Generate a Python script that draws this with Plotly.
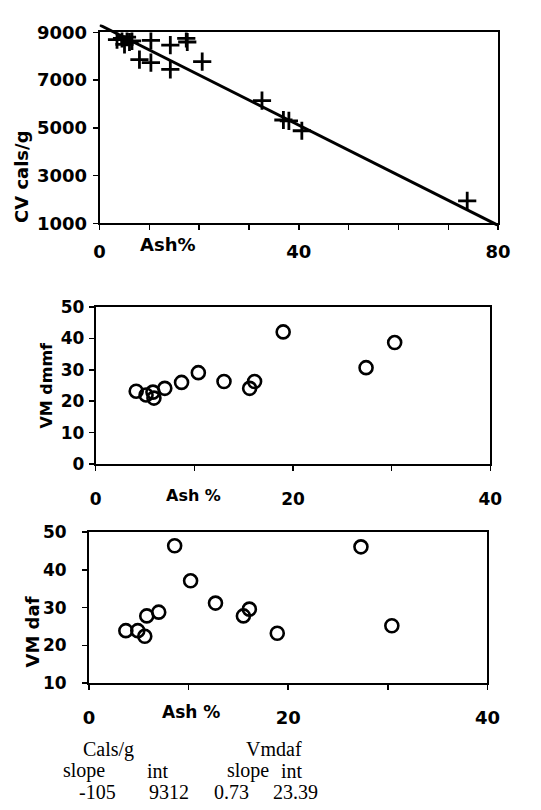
import plotly.graph_objects as go

W, H = 541, 810

# ---------------- data ----------------
# Chart 1: CV cals/g vs Ash%
cv_ash = [3.5, 4.5, 5.5, 6.0, 5.0, 6.5, 10.3, 14.2, 17.4, 17.6, 8.0, 10.3, 14.2, 20.6,
          32.6, 36.9, 38.0, 40.6, 73.8]
cv_val = [8700, 8750, 8800, 8600, 8500, 8650, 8670, 8470, 8750, 8600, 7860, 7735, 7450, 7780,
          6140, 5330, 5290, 4880, 1940]
cv_slope = [-105]
cv_int = [9312]

# Chart 2: VM dmmf vs Ash %
dmmf_ash = [4.1, 5.1, 5.8, 5.9, 7.0, 8.7, 10.4, 13.0, 15.6, 16.1, 19.0, 27.4, 30.3]
dmmf_vm = [23.2, 22.0, 22.9, 21.0, 24.1, 26.0, 29.1, 26.3, 24.1, 26.3, 42.1, 30.7, 38.7]

# Chart 3: VM daf vs Ash %
daf_ash = [3.7, 4.9, 5.6, 5.8, 7.0, 8.6, 10.2, 12.7, 15.5, 16.1, 18.9, 27.3, 30.4]
daf_vm = [23.9, 23.9, 22.4, 27.8, 28.8, 46.4, 37.1, 31.2, 27.8, 29.6, 23.2, 46.1, 25.2]

# summary table
vmdaf_slope = [0.73]
vmdaf_int = [23.39]

x1_ticks = [0, 10, 20, 30, 40, 50, 60, 70, 80]
x1_labels = ["0", "", "", "", "40", "", "", "", "80"]
y1_ticks = [1000, 3000, 5000, 7000, 9000]
x23_ticks = [0, 10, 20, 30, 40]
x23_labels = ["0", "", "20", "", "40"]

# ---------------- helpers ----------------
def xd(a, b):
    return [a / W, b / W]

def yd(top, bottom):
    return [1 - bottom / H, 1 - top / H]

SANS = "DejaVu Sans"
fig = go.Figure()

# chart 1 crosses
fig.add_trace(go.Scatter(
    x=cv_ash, y=cv_val, mode="markers", xaxis="x", yaxis="y",
    marker=dict(symbol="cross-thin", size=13, line=dict(width=2.8, color="black"), color="black"),
    showlegend=False, hoverinfo="skip"))

# trend line on overlay axes (so it can rise above the frame like the original)
tx = [0, 80]
ty = [cv_int[0] + cv_slope[0] * v for v in tx]
fig.add_trace(go.Scatter(
    x=tx, y=ty, mode="lines", xaxis="x4", yaxis="y4",
    line=dict(color="black", width=3), showlegend=False, hoverinfo="skip"))

# chart 2
fig.add_trace(go.Scatter(
    x=dmmf_ash, y=dmmf_vm, mode="markers", xaxis="x2", yaxis="y2",
    marker=dict(symbol="circle-open", size=13, line=dict(width=2.6, color="black"), color="black"),
    showlegend=False, hoverinfo="skip"))

# chart 3
fig.add_trace(go.Scatter(
    x=daf_ash, y=daf_vm, mode="markers", xaxis="x3", yaxis="y3",
    marker=dict(symbol="circle-open", size=13, line=dict(width=2.6, color="black"), color="black"),
    showlegend=False, hoverinfo="skip"))

axis_common = dict(showline=True, mirror=True, linecolor="black", linewidth=2,
                   showgrid=False, zeroline=False, ticks="outside", ticklen=5,
                   tickwidth=1.5, tickcolor="black", fixedrange=True)

# chart 1 geometry
c1_top, c1_bot = 22, 218
pxu = (c1_bot - c1_top) / (9000 - 1000)
y4_lo, y4_hi = 880, 9330
y4_bot = c1_bot + (1000 - y4_lo) * pxu
y4_top = c1_top - (y4_hi - 9000) * pxu

fig.update_layout(
    width=W, height=H, autosize=False,
    margin=dict(l=0, r=0, t=0, b=0),
    paper_bgcolor="white", plot_bgcolor="rgba(0,0,0,0)",
    xaxis=dict(domain=xd(97, 510), range=[0, 80], anchor="y",
               tickvals=x1_ticks, ticktext=x1_labels, ticklabelstandoff=6,
               tickfont=dict(family=SANS, size=18, color="black", weight="bold"), **axis_common),
    yaxis=dict(domain=yd(c1_top, c1_bot), range=[1000, 9000], anchor="x",
               tickvals=y1_ticks, ticklabelstandoff=2,
               tickfont=dict(family=SANS, size=18, color="black", weight="bold"), **axis_common),
    xaxis4=dict(domain=xd(97, 510), range=[0, 80], anchor="y4", visible=False, fixedrange=True),
    yaxis4=dict(domain=yd(y4_top, y4_bot), range=[y4_lo, y4_hi], anchor="x4", visible=False,
                fixedrange=True),
    xaxis2=dict(domain=xd(93, 502), range=[0, 40], anchor="y2",
                tickvals=x23_ticks, ticktext=x23_labels, ticklabelstandoff=14,
                tickfont=dict(family=SANS, size=17, color="black", weight="bold"), **axis_common),
    yaxis2=dict(domain=yd(304, 465), range=[0, 50], anchor="x2", dtick=10, ticklabelstandoff=1,
                tickfont=dict(family=SANS, size=17, color="black", weight="bold"), **axis_common),
    xaxis3=dict(domain=xd(86, 499), range=[0, 40], anchor="y3",
                tickvals=x23_ticks, ticktext=x23_labels, ticklabelstandoff=12,
                tickfont=dict(family=SANS, size=18, color="black", weight="bold"), **axis_common),
    yaxis3=dict(domain=yd(535, 690), range=[10, 50], anchor="x3", dtick=10, ticklabelstandoff=12,
                tickfont=dict(family=SANS, size=17, color="black", weight="bold"), **axis_common),
)

def ann(text, x, y, size, angle=0, family=SANS, bold=True):
    fig.add_annotation(text=text, x=x / W, y=1 - y / H, xref="paper", yref="paper",
                       showarrow=False, textangle=angle, xanchor="center", yanchor="middle",
                       font=dict(family=family, size=size, color="black",
                                 weight="bold" if bold else "normal"))

# axis titles
ann("CV cals/g", 16, 170, 18, -90)
ann("Ash%", 168, 240, 18)
ann("VM dmmf", 42, 384, 16, -90)
ann("Ash %", 194, 497, 16)
ann("VM daf", 27, 638, 18, -90)
ann("Ash %", 192, 720, 17)

# summary table
SERIF = "Liberation Serif"
ann("Cals/g", 106, 758, 20, family=SERIF, bold=False)
ann("Vmdaf", 278, 758, 20, family=SERIF, bold=False)
ann("slope", 81, 780, 20, family=SERIF, bold=False)
ann("int", 158, 780, 20, family=SERIF, bold=False)
ann("slope", 251, 780, 20, family=SERIF, bold=False)
ann("int", 296, 780, 20, family=SERIF, bold=False)
ann(str(cv_slope[0]), 95, 802, 20, family=SERIF, bold=False)
ann(str(cv_int[0]), 169, 802, 20, family=SERIF, bold=False)
ann(f"{vmdaf_slope[0]:.2f}", 234, 802, 20, family=SERIF, bold=False)
ann(f"{vmdaf_int[0]:.2f}", 300, 802, 20, family=SERIF, bold=False)

fig.write_html(
    "out.html",
    config={"displayModeBar": False, "staticPlot": True},
    post_script="document.body.style.margin='0';document.body.style.overflow='hidden';",
)
